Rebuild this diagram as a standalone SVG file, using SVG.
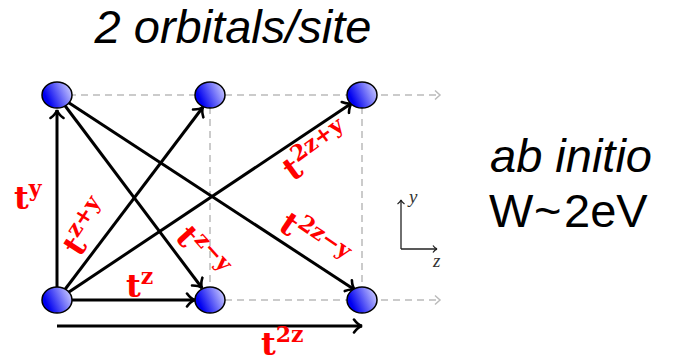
<svg xmlns="http://www.w3.org/2000/svg" width="673" height="364" viewBox="0 0 673 364">
<style>
.title{font-family:"Liberation Sans",Arial,sans-serif;font-size:47px;fill:#000}
.it{font-style:italic}
.dash{stroke:#bbb;stroke-width:1.5;stroke-dasharray:7 5;fill:none}
.arr{stroke:#000;stroke-width:3;fill:none;marker-end:url(#to)}
.lab{font-family:"DejaVu Serif","Liberation Serif",serif;font-weight:bold;fill:#ff0000;font-size:32px}
.sup{font-size:22px}
.node{fill:url(#ball);stroke:#000;stroke-width:1.5}
.ax{stroke:#222;stroke-width:1.3;fill:none;marker-end:url(#axh)}
.axl{font-family:"Liberation Serif",serif;font-style:italic;font-size:19px;fill:#333}
</style>
<defs>
<linearGradient id="ball" x1="0" y1="0.7" x2="1" y2="0.3">
<stop offset="0.15" stop-color="#0000f0"/>
<stop offset="1" stop-color="#c8c8ff"/>
</linearGradient>
<marker id="to" markerWidth="16" markerHeight="16" refX="0" refY="0" viewBox="-11 -8 13 16" orient="auto" markerUnits="userSpaceOnUse">
<path d="M -8 -6.5 Q -4 -1 0 0 Q -4 1 -8 6.5" stroke="#000" stroke-width="2.6" fill="none" stroke-linecap="round"/>
</marker>
<marker id="dh" markerWidth="12" markerHeight="12" refX="0" refY="0" viewBox="-8 -6 10 12" orient="auto" markerUnits="userSpaceOnUse">
<path d="M -5 -4.5 L 0 0 L -5 4.5" stroke="#bbb" stroke-width="1.5" fill="none"/>
</marker>
<marker id="axh" markerWidth="10" markerHeight="10" refX="0" refY="0" viewBox="-6 -5 8 10" orient="auto" markerUnits="userSpaceOnUse">
<path d="M -4 -3.5 Q -2 -0.5 0 0 Q -2 0.5 -4 3.5" stroke="#222" stroke-width="1.3" fill="none"/>
</marker>
</defs>
<text class="title it" x="233" y="43" text-anchor="middle">2 orbitals/site</text>
<text class="title it" x="571" y="172" text-anchor="middle">ab initio</text>
<text class="title" y="227"><tspan x="489">W</tspan><tspan x="534">~</tspan><tspan x="564">2eV</tspan></text>
<g id="grid">
<path class="dash" d="M57 95 H440" marker-end="url(#dh)"/>
<path class="dash" d="M57 300 H440" marker-end="url(#dh)"/>
<path class="dash" d="M210 95 V300 M362 95 V300"/>
</g>
<g id="connectors">
<path class="arr" d="M57 300 V110"/>
<path class="arr" d="M57 300 L203 107"/>
<path class="arr" d="M57 300 L352 103"/>
<path class="arr" d="M57 300 H195"/>
<path class="arr" d="M57 95 L202 288"/>
<path class="arr" d="M57 95 L355 290"/>
<path class="arr" d="M57 326 H362"/>
<text class="lab" x="14" y="209">t<tspan class="sup" dy="-13">y</tspan></text>
<text class="lab" x="126" y="297">t<tspan class="sup" dy="-13">z</tspan></text>
<text class="lab" x="261" y="355">t<tspan class="sup" dy="-13">2z</tspan></text>
<text class="lab" transform="translate(80,258) rotate(-57)">t<tspan class="sup" dy="-13">z+y</tspan></text>
<text class="lab" transform="translate(174,238) rotate(48)">t<tspan class="sup" dy="-13">z−y</tspan></text>
<text class="lab" transform="translate(293,182) rotate(-36)">t<tspan class="sup" dy="-13">2z+y</tspan></text>
<text class="lab" transform="translate(277,229) rotate(34)">t<tspan class="sup" dy="-13">2z−y</tspan></text>
</g>
<g id="axes">
<path class="ax" d="M401 249 V200"/>
<path class="ax" d="M401 249 H437"/>
<text class="axl" x="409" y="203">y</text>
<text class="axl" x="433" y="267">z</text>
</g>
<g id="n1"><ellipse class="node" cx="57" cy="95" rx="15" ry="13"/></g>
<g id="n2"><ellipse class="node" cx="210" cy="95" rx="15" ry="13"/></g>
<g id="n3"><ellipse class="node" cx="362" cy="95" rx="15" ry="13"/></g>
<g id="n4"><ellipse class="node" cx="57" cy="300" rx="15" ry="13"/></g>
<g id="n5"><ellipse class="node" cx="210" cy="300" rx="15" ry="13"/></g>
<g id="n6"><ellipse class="node" cx="362" cy="300" rx="15" ry="13"/></g>
</svg>
